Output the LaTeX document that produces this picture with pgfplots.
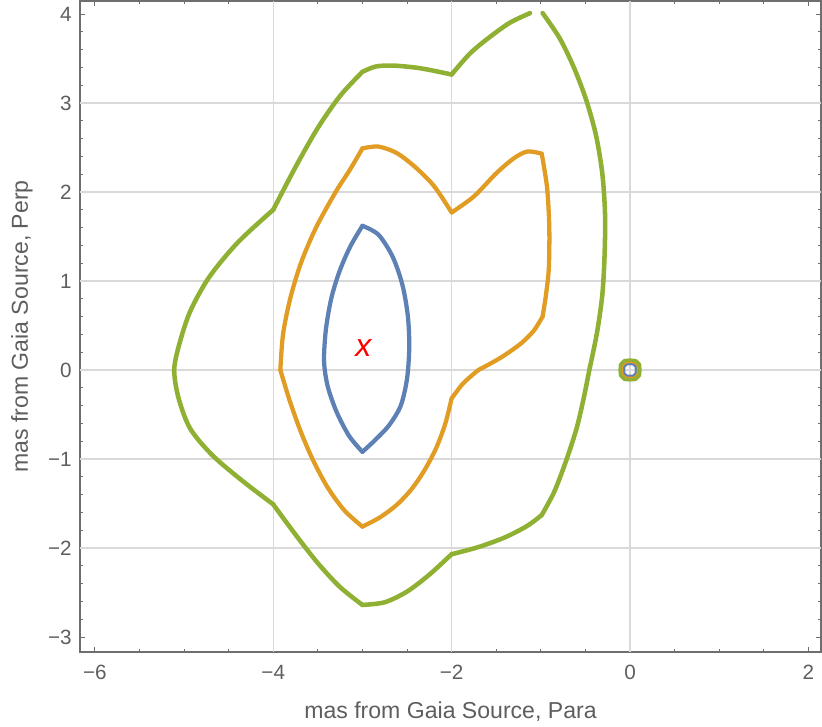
\documentclass[border=0pt]{standalone}
\usepackage{fontspec}
\setmainfont{Liberation Sans}
\usepackage{pgfplots}
\pgfplotsset{compat=1.18}
\definecolor{cblue}{HTML}{5E81B5}
\definecolor{corange}{HTML}{E19C24}
\definecolor{cgreen}{HTML}{8FB032}
\definecolor{framegray}{HTML}{6E6E6E}
\definecolor{labelgray}{HTML}{5E5E5E}
\definecolor{gridgray}{HTML}{D9D9D9}
\pgfplotsset{
  gseg/.style={cgreen, line width=3.4pt, smooth, line cap=round, line join=round},
  oseg/.style={corange, line width=3.2pt, smooth, line cap=round, line join=round},
  bseg/.style={cblue, line width=3.2pt, smooth, line cap=round, line join=round},
}
\begin{document}
\begin{tikzpicture}
\begin{axis}[
  scale only axis, width=555.75pt, height=488.25pt,
  xmin=-6.166, xmax=2.141, ymin=-3.169, ymax=4.146,
  axis line style={framegray, line width=0.8pt},
  xtick={-6,-4,-2,0,2}, xticklabels={−6,−4,−2,0,2},
  ytick={-3,-2,-1,0,1,2,3,4}, yticklabels={−3,−2,−1,0,1,2,3,4},
  minor x tick num=3, minor y tick num=4,
  major tick length=3.75pt, minor tick length=2pt,
  tick style={framegray, line width=0.6pt},
  tick align=inside,
  ticklabel style={font=\fontsize{15.5}{16}\selectfont, text=labelgray, inner sep=0pt},
  xticklabel style={yshift=-9.75pt},
  yticklabel style={xshift=-6pt},
  extra x ticks={-4,-2,0}, extra y ticks={-2,-1,0,1,2,3},
  extra x tick labels={}, extra y tick labels={},
  extra tick style={grid=major, major tick length=0pt},
  major grid style={gridgray, line width=1pt},
  xlabel={mas from Gaia Source, Para},
  ylabel={mas from Gaia Source, Perp},
  label style={font=\fontsize{17.3}{19}\selectfont, text=labelgray},
  xlabel style={at={(axis description cs:0.5,-0.1014)}, anchor=base, inner sep=0pt},
  ylabel style={at={(axis description cs:-0.0783,0.5)}, anchor=center, inner sep=0pt},
]
% ---- outer contour (green), open at the top ----
\addplot[gseg] coordinates {
(-1.12,4.01) (-1.35,3.90) (-1.6,3.72) (-1.8,3.55) (-2.0,3.32)};
\addplot[gseg] coordinates {
(-2.0,3.32) (-2.35,3.39) (-2.65,3.42) (-2.85,3.41) (-3.0,3.35)};
\addplot[gseg] coordinates {
(-3.0,3.35) (-3.25,3.08) (-3.5,2.72) (-3.75,2.28) (-4.0,1.80)};
\addplot[gseg] coordinates {
(-4.0,1.80) (-4.40,1.43) (-4.72,1.04) (-4.93,0.66) (-5.05,0.30) (-5.11,0.0)
(-5.06,-0.32) (-4.93,-0.66) (-4.68,-0.96) (-4.34,-1.25) (-4.0,-1.51)};
\addplot[gseg] coordinates {
(-4.0,-1.51) (-3.75,-1.85) (-3.5,-2.17) (-3.25,-2.44) (-3.0,-2.64)};
\addplot[gseg] coordinates {
(-3.0,-2.64) (-2.75,-2.61) (-2.5,-2.49) (-2.25,-2.30) (-2.0,-2.07)};
\addplot[gseg] coordinates {
(-2.0,-2.07) (-1.7,-1.99) (-1.4,-1.88) (-1.15,-1.75) (-0.99,-1.63)};
\addplot[gseg] coordinates {
(-0.99,-1.63) (-0.85,-1.37) (-0.72,-1.03) (-0.60,-0.66) (-0.52,-0.32) (-0.45,0.03)};
\addplot[gseg] coordinates {
(-0.45,0.03) (-0.37,0.42) (-0.31,0.85) (-0.285,1.3) (-0.28,1.75) (-0.31,2.2)
(-0.38,2.63) (-0.49,3.03) (-0.63,3.40) (-0.79,3.73) (-0.98,4.01)};
% ---- middle contour (orange) ----
\addplot[oseg] coordinates {
(-3.0,2.49) (-2.82,2.51) (-2.62,2.44) (-2.42,2.29) (-2.2,2.07) (-2.0,1.77)};
\addplot[oseg] coordinates {
(-2.0,1.77) (-1.75,1.95) (-1.5,2.21) (-1.3,2.38) (-1.15,2.455) (-0.99,2.43)};
\addplot[oseg] coordinates {
(-0.99,2.43) (-0.93,2.05) (-0.905,1.6) (-0.91,1.15) (-0.94,0.86) (-0.98,0.60)};
\addplot[oseg] coordinates {
(-0.98,0.60) (-1.08,0.44) (-1.22,0.30) (-1.40,0.17) (-1.55,0.08) (-1.70,0.0)};
\addplot[oseg] coordinates {
(-1.70,0.0) (-1.87,-0.15) (-2.0,-0.32)};
\addplot[oseg] coordinates {
(-2.0,-0.32) (-2.07,-0.60) (-2.17,-0.87) (-2.30,-1.12) (-2.45,-1.34)
(-2.62,-1.52) (-2.81,-1.66) (-3.0,-1.76)};
\addplot[oseg] coordinates {
(-3.0,-1.76) (-3.2,-1.58) (-3.39,-1.32) (-3.56,-1.0) (-3.70,-0.67) (-3.82,-0.33) (-3.92,0.0)};
\addplot[oseg] coordinates {
(-3.92,0.0) (-3.89,0.4) (-3.81,0.8) (-3.69,1.2) (-3.52,1.6) (-3.30,2.0) (-3.14,2.25) (-3.0,2.49)};
% ---- inner contour (blue) ----
\addplot[bseg] coordinates {
(-3.0,1.62) (-2.82,1.52) (-2.66,1.27) (-2.55,0.95) (-2.49,0.6) (-2.475,0.25)
(-2.5,-0.1) (-2.57,-0.4) (-2.7,-0.62) (-2.85,-0.78) (-3.0,-0.92)};
\addplot[bseg] coordinates {
(-3.0,-0.92) (-3.15,-0.74) (-3.29,-0.47) (-3.39,-0.18) (-3.43,0.1)
(-3.41,0.45) (-3.35,0.8) (-3.26,1.1) (-3.14,1.38) (-3.0,1.62)};
% ---- small contours around the source at the origin ----
\addplot[cgreen, line width=3.4pt, line join=round] coordinates {
(0.105,0.0) (0.1,0.06) (0.06,0.1) (0.0,0.105) (-0.06,0.1) (-0.1,0.06) (-0.105,0.0)
(-0.1,-0.06) (-0.06,-0.1) (0.0,-0.105) (0.06,-0.1) (0.1,-0.06) (0.105,0.0)};
\addplot[corange, line width=1.5pt, line join=round] coordinates {
(0.08,0.0) (0.076,0.046) (0.046,0.076) (0.0,0.08) (-0.046,0.076) (-0.076,0.046) (-0.08,0.0)
(-0.076,-0.046) (-0.046,-0.076) (0.0,-0.08) (0.046,-0.076) (0.076,-0.046) (0.08,0.0)};
\addplot[cblue, line width=1.5pt, line join=round] coordinates {
(0.065,0.0) (0.062,0.037) (0.037,0.062) (0.0,0.065) (-0.037,0.062) (-0.062,0.037) (-0.065,0.0)
(-0.062,-0.037) (-0.037,-0.062) (0.0,-0.065) (0.037,-0.062) (0.062,-0.037) (0.065,0.0)};
% ---- marker ----
\addplot[red, only marks, mark=text, text mark={x}, text mark as node=true,
  text mark style={font=\fontsize{24}{24}\selectfont\itshape, inner sep=0pt}]
  coordinates {(-2.99,0.25)};
\end{axis}
\pgfresetboundingbox
\path (current axis.south west) ++(-60pt,-55.5pt) rectangle ([xshift=0.75pt,yshift=0.75pt]current axis.north east);
\end{tikzpicture}
\end{document}
